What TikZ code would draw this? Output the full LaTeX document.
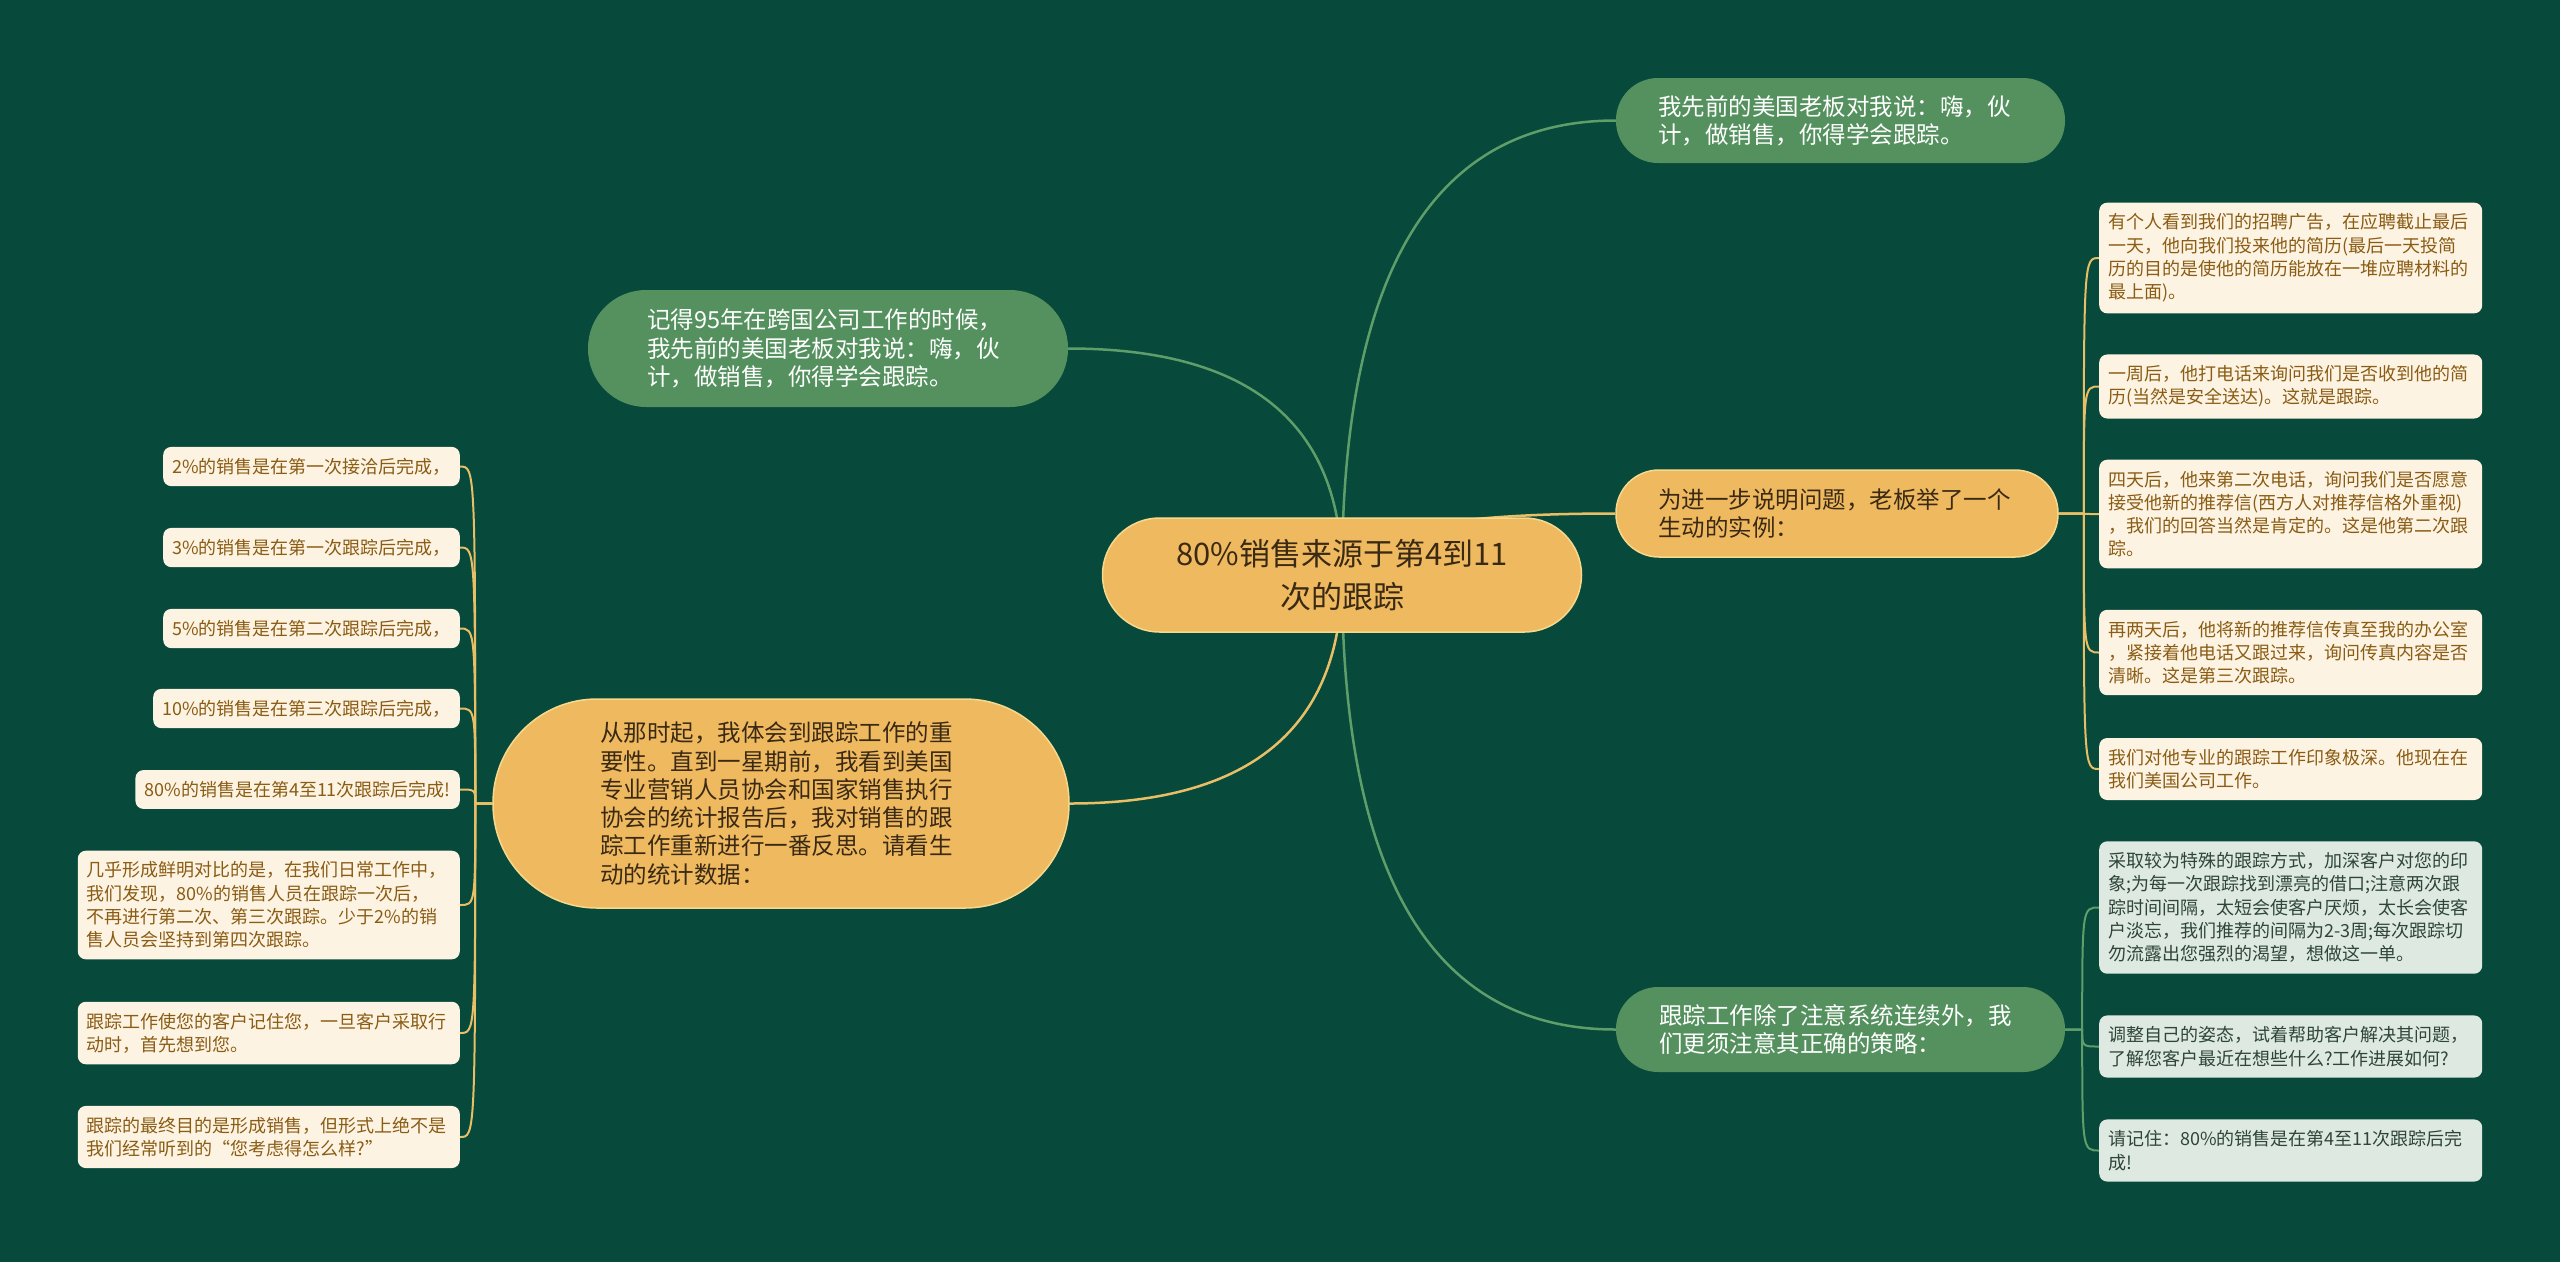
\documentclass[tikz,border=0pt]{standalone}
\usepackage{fontspec}
\newfontfamily\cjk{Noto Sans CJK SC}
\usetikzlibrary{positioning, calc, backgrounds}

\definecolor{bgcol}{HTML}{07493A}
\definecolor{orangefill}{HTML}{EFB960}
\definecolor{orangerim}{HTML}{F7D98E}
\definecolor{orangeline}{HTML}{E8BF66}
\definecolor{greenfill}{HTML}{54915E}
\definecolor{greenline}{HTML}{5E9E6A}
\definecolor{creamfill}{HTML}{FDF3E2}
\definecolor{leaftext}{HTML}{8A5C14}
\definecolor{mintfill}{HTML}{DDE9E1}
\definecolor{minttext}{HTML}{2F4539}
\definecolor{darktext}{HTML}{3A2A14}

\tikzset{
  topic/.style={rectangle, rounded corners=#1, align=left, inner sep=0pt,
    font=\cjk\fontsize{23.5}{28.3}\selectfont},
  greentopic/.style={topic=#1, fill=greenfill, text=white},
  orangetopic/.style={topic=#1, fill=orangefill, draw=orangerim, line width=1.5, text=darktext},
  leaf/.style={rectangle, rounded corners=8, align=left, inner xsep=9, inner ysep=11,
    font=\cjk\fontsize{18}{23.3}\selectfont},
  creamleaf/.style={leaf, fill=creamfill, text=leaftext},
  mintleaf/.style={leaf, fill=mintfill, text=minttext}
}

\begin{document}
\begin{tikzpicture}[x=1pt, y=-1pt]
    \useasboundingbox (0,0) rectangle (2560,1262);

    % central topic
    \node[orangetopic=57, align=center, minimum width=479, minimum height=114,
      font=\cjk\fontsize{31}{43}\selectfont] (root) at (1342,575) {80\%销售来源于第4到11\\次的跟踪};

    % main topics
    \node[greentopic=42, text width=365, minimum width=449, minimum height=85] (g1) at (1840.5,120.5)
      {我先前的美国老板对我说：嗨，伙\\计，做销售，你得学会跟踪。};
    \node[orangetopic=43, text width=358, minimum width=442, minimum height=87] (o1) at (1837,513.5)
      {为进一步说明问题，老板举了一个\\生动的实例：};
    \node[greentopic=42, text width=363, minimum width=449, minimum height=85] (g2) at (1840.5,1029.5)
      {跟踪工作除了注意系统连续外，我\\们更须注意其正确的策略：};
    \node[greentopic=58, text width=362, minimum width=480, minimum height=117] (g3) at (828,348.5)
      {记得95年在跨国公司工作的时候，\\我先前的美国老板对我说：嗨，伙\\计，做销售，你得学会跟踪。};
    \node[orangetopic=104, text width=362, minimum width=576, minimum height=209] (o2) at (781,803.5)
      {从那时起，我体会到跟踪工作的重\\要性。直到一星期前，我看到美国\\专业营销人员协会和国家销售执行\\协会的统计报告后，我对销售的跟\\踪工作重新进行一番反思。请看生\\动的统计数据：};

    % the example story
    \node[creamleaf, text width=365, anchor=west] (r1) at (2099,258)
      {有个人看到我们的招聘广告，在应聘截止最后\\一天，他向我们投来他的简历(最后一天投简\\历的目的是使他的简历能放在一堆应聘材料的\\最上面)。};
    \node[creamleaf, text width=365, anchor=west] (r2) at (2099,386.5)
      {一周后，他打电话来询问我们是否收到他的简\\历(当然是安全送达)。这就是跟踪。};
    \node[creamleaf, text width=365, anchor=west] (r3) at (2099,514)
      {四天后，他来第二次电话，询问我们是否愿意\\接受他新的推荐信(西方人对推荐信格外重视)\\，我们的回答当然是肯定的。这是他第二次跟\\踪。};
    \node[creamleaf, text width=365, anchor=west] (r4) at (2099,652.5)
      {再两天后，他将新的推荐信传真至我的办公室\\，紧接着他电话又跟过来，询问传真内容是否\\清晰。这是第三次跟踪。};
    \node[creamleaf, text width=365, anchor=west] (r5) at (2099,769)
      {我们对他专业的跟踪工作印象极深。他现在在\\我们美国公司工作。};

    % strategy
    \node[mintleaf, text width=365, anchor=west] (m1) at (2099,907.5)
      {采取较为特殊的跟踪方式，加深客户对您的印\\象;为每一次跟踪找到漂亮的借口;注意两次跟\\踪时间间隔，太短会使客户厌烦，太长会使客\\户淡忘，我们推荐的间隔为2-3周;每次跟踪切\\勿流露出您强烈的渴望，想做这一单。};
    \node[mintleaf, text width=365, anchor=west] (m2) at (2099,1046.5)
      {调整自己的姿态，试着帮助客户解决其问题，\\了解您客户最近在想些什么?工作进展如何?};
    \node[mintleaf, text width=365, anchor=west] (m3) at (2099,1150.5)
      {请记住：80\%的销售是在第4至11次跟踪后完\\成!};

    % statistics
    \node[creamleaf, anchor=east] (l1) at (460,466.5) {2\%的销售是在第一次接洽后完成，};
    \node[creamleaf, anchor=east] (l2) at (460,547.5) {3\%的销售是在第一次跟踪后完成，};
    \node[creamleaf, anchor=east] (l3) at (460,628.5) {5\%的销售是在第二次跟踪后完成，};
    \node[creamleaf, anchor=east] (l4) at (460,708.5) {10\%的销售是在第三次跟踪后完成，};
    \node[creamleaf, anchor=east] (l5) at (460,789.5) {80\%的销售是在第4至11次跟踪后完成!};
    \node[creamleaf, text width=364, anchor=east] (l6) at (460,905)
      {几乎形成鲜明对比的是，在我们日常工作中，\\我们发现，80\%的销售人员在跟踪一次后，\\不再进行第二次、第三次跟踪。少于2\%的销\\售人员会坚持到第四次跟踪。};
    \node[creamleaf, text width=364, anchor=east] (l7) at (460,1033)
      {跟踪工作使您的客户记住您，一旦客户采取行\\动时，首先想到您。};
    \node[creamleaf, text width=364, anchor=east] (l8) at (460,1137)
      {跟踪的最终目的是形成销售，但形式上绝不是\\我们经常听到的“您考虑得怎么样?”};

    \begin{scope}[on background layer]
        \fill[bgcol] (0,0) rectangle (2560,1262);

        % branches out of the central topic
        \foreach \n/\a/\c in {g1/west/greenline, o1/west/orangeline, g2/west/greenline, g3/east/greenline, o2/east/orangeline}
            \draw[\c, line width=2.5] (root.center)
              .. controls ($(root.center)!2/3!(root.center |- \n.\a)$) and ($(\n.\a)!2/3!(root.center |- \n.\a)$) .. (\n.\a);

        % sub branches
        \coordinate (rsp) at ($(o1.east)+(25,0)$);
        \foreach \n in {r1,r2,r3,r4,r5}
            \draw[orangeline, line width=2] (o1.east) -- (rsp) .. controls (rsp |- \n.west) .. (\n.west);
        \coordinate (gsp) at ($(g2.east)+(17,0)$);
        \foreach \n in {m1,m2,m3}
            \draw[greenline, line width=2] (g2.east) -- (gsp) .. controls (gsp |- \n.west) .. (\n.west);
        \coordinate (lsp) at ($(o2.west)+(-17,0)$);
        \foreach \n in {l1,l2,l3,l4,l5,l6,l7,l8}
            \draw[orangeline, line width=2] (o2.west) -- (lsp) .. controls (lsp |- \n.east) .. (\n.east);
    \end{scope}
\end{tikzpicture}
\end{document}
